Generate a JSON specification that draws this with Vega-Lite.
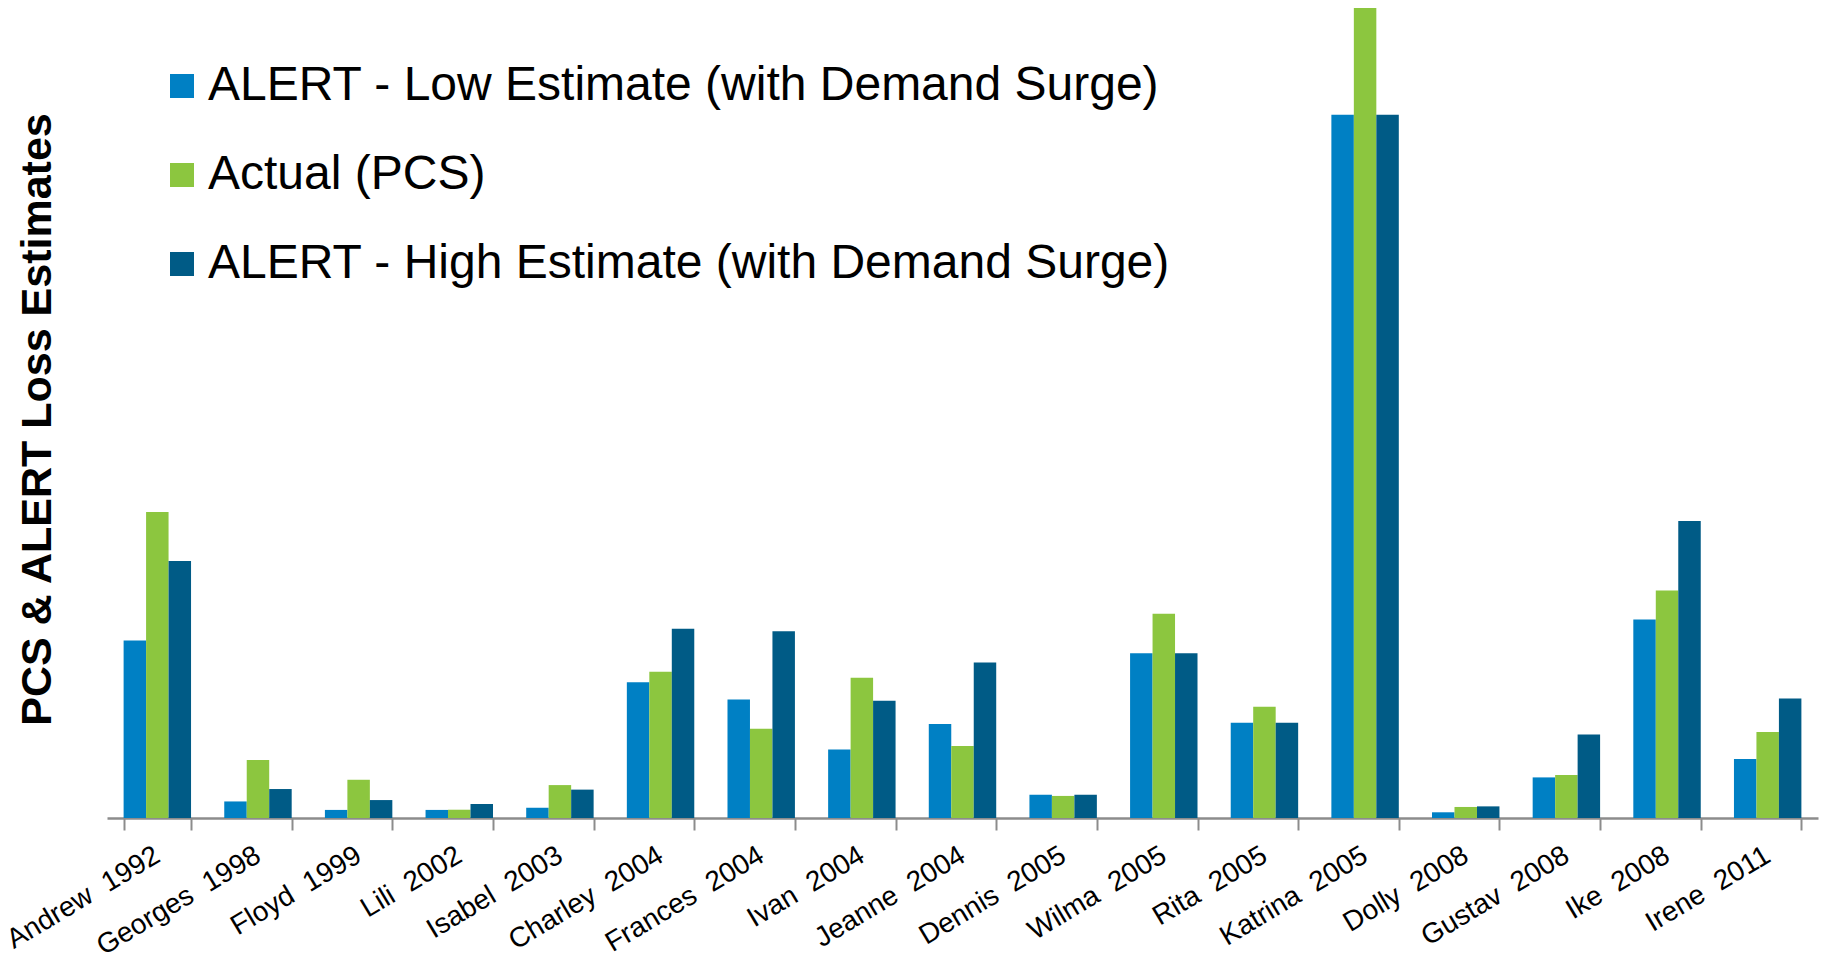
{
  "$schema": "https://vega.github.io/schema/vega-lite/v6.json",
  "autosize": {"type": "none"},
  "width": 1711,
  "height": 810,
  "padding": {"left": 107, "top": 8, "right": 4, "bottom": 137},
  "background": "white",
  "config": {"view": {"stroke": null}, "font": "Liberation Sans"},
  "data": {"values": [
    {"storm": "Andrew\u00a0 1992", "series": "ALERT - Low Estimate (with Demand Surge)", "value": 9.01},
    {"storm": "Andrew\u00a0 1992", "series": "Actual (PCS)", "value": 15.53},
    {"storm": "Andrew\u00a0 1992", "series": "ALERT - High Estimate (with Demand Surge)", "value": 13.04},
    {"storm": "Georges\u00a0 1998", "series": "ALERT - Low Estimate (with Demand Surge)", "value": 0.84},
    {"storm": "Georges\u00a0 1998", "series": "Actual (PCS)", "value": 2.94},
    {"storm": "Georges\u00a0 1998", "series": "ALERT - High Estimate (with Demand Surge)", "value": 1.47},
    {"storm": "Floyd\u00a0 1999", "series": "ALERT - Low Estimate (with Demand Surge)", "value": 0.41},
    {"storm": "Floyd\u00a0 1999", "series": "Actual (PCS)", "value": 1.94},
    {"storm": "Floyd\u00a0 1999", "series": "ALERT - High Estimate (with Demand Surge)", "value": 0.91},
    {"storm": "Lili\u00a0 2002", "series": "ALERT - Low Estimate (with Demand Surge)", "value": 0.41},
    {"storm": "Lili\u00a0 2002", "series": "Actual (PCS)", "value": 0.42},
    {"storm": "Lili\u00a0 2002", "series": "ALERT - High Estimate (with Demand Surge)", "value": 0.71},
    {"storm": "Isabel\u00a0 2003", "series": "ALERT - Low Estimate (with Demand Surge)", "value": 0.52},
    {"storm": "Isabel\u00a0 2003", "series": "Actual (PCS)", "value": 1.67},
    {"storm": "Isabel\u00a0 2003", "series": "ALERT - High Estimate (with Demand Surge)", "value": 1.44},
    {"storm": "Charley\u00a0 2004", "series": "ALERT - Low Estimate (with Demand Surge)", "value": 6.89},
    {"storm": "Charley\u00a0 2004", "series": "Actual (PCS)", "value": 7.42},
    {"storm": "Charley\u00a0 2004", "series": "ALERT - High Estimate (with Demand Surge)", "value": 9.6},
    {"storm": "Frances\u00a0 2004", "series": "ALERT - Low Estimate (with Demand Surge)", "value": 6.01},
    {"storm": "Frances\u00a0 2004", "series": "Actual (PCS)", "value": 4.53},
    {"storm": "Frances\u00a0 2004", "series": "ALERT - High Estimate (with Demand Surge)", "value": 9.48},
    {"storm": "Ivan\u00a0 2004", "series": "ALERT - Low Estimate (with Demand Surge)", "value": 3.47},
    {"storm": "Ivan\u00a0 2004", "series": "Actual (PCS)", "value": 7.12},
    {"storm": "Ivan\u00a0 2004", "series": "ALERT - High Estimate (with Demand Surge)", "value": 5.95},
    {"storm": "Jeanne\u00a0 2004", "series": "ALERT - Low Estimate (with Demand Surge)", "value": 4.77},
    {"storm": "Jeanne\u00a0 2004", "series": "Actual (PCS)", "value": 3.65},
    {"storm": "Jeanne\u00a0 2004", "series": "ALERT - High Estimate (with Demand Surge)", "value": 7.89},
    {"storm": "Dennis\u00a0 2005", "series": "ALERT - Low Estimate (with Demand Surge)", "value": 1.18},
    {"storm": "Dennis\u00a0 2005", "series": "Actual (PCS)", "value": 1.12},
    {"storm": "Dennis\u00a0 2005", "series": "ALERT - High Estimate (with Demand Surge)", "value": 1.18},
    {"storm": "Wilma\u00a0 2005", "series": "ALERT - Low Estimate (with Demand Surge)", "value": 8.36},
    {"storm": "Wilma\u00a0 2005", "series": "Actual (PCS)", "value": 10.36},
    {"storm": "Wilma\u00a0 2005", "series": "ALERT - High Estimate (with Demand Surge)", "value": 8.36},
    {"storm": "Rita\u00a0 2005", "series": "ALERT - Low Estimate (with Demand Surge)", "value": 4.83},
    {"storm": "Rita\u00a0 2005", "series": "Actual (PCS)", "value": 5.65},
    {"storm": "Rita\u00a0 2005", "series": "ALERT - High Estimate (with Demand Surge)", "value": 4.83},
    {"storm": "Katrina\u00a0 2005", "series": "ALERT - Low Estimate (with Demand Surge)", "value": 35.68},
    {"storm": "Katrina\u00a0 2005", "series": "Actual (PCS)", "value": 41.1},
    {"storm": "Katrina\u00a0 2005", "series": "ALERT - High Estimate (with Demand Surge)", "value": 35.68},
    {"storm": "Dolly\u00a0 2008", "series": "ALERT - Low Estimate (with Demand Surge)", "value": 0.29},
    {"storm": "Dolly\u00a0 2008", "series": "Actual (PCS)", "value": 0.56},
    {"storm": "Dolly\u00a0 2008", "series": "ALERT - High Estimate (with Demand Surge)", "value": 0.59},
    {"storm": "Gustav\u00a0 2008", "series": "ALERT - Low Estimate (with Demand Surge)", "value": 2.06},
    {"storm": "Gustav\u00a0 2008", "series": "Actual (PCS)", "value": 2.18},
    {"storm": "Gustav\u00a0 2008", "series": "ALERT - High Estimate (with Demand Surge)", "value": 4.24},
    {"storm": "Ike\u00a0 2008", "series": "ALERT - Low Estimate (with Demand Surge)", "value": 10.07},
    {"storm": "Ike\u00a0 2008", "series": "Actual (PCS)", "value": 11.54},
    {"storm": "Ike\u00a0 2008", "series": "ALERT - High Estimate (with Demand Surge)", "value": 15.07},
    {"storm": "Irene\u00a0 2011", "series": "ALERT - Low Estimate (with Demand Surge)", "value": 3.0},
    {"storm": "Irene\u00a0 2011", "series": "Actual (PCS)", "value": 4.36},
    {"storm": "Irene\u00a0 2011", "series": "ALERT - High Estimate (with Demand Surge)", "value": 6.06}
  ]},
  "mark": {"type": "bar"},
  "encoding": {
    "x": {
      "field": "storm", "type": "nominal", "sort": null,
      "scale": {"paddingInner": 0.33, "paddingOuter": 0.165},
      "axis": {
        "title": null, "labelAngle": -31, "labelFontSize": 28, "labelColor": "black",
        "labelAlign": "right", "labelBaseline": "middle", "labelLimit": 400, "labelOverlap": false,
        "domainColor": "#8c8c8c", "domainWidth": 2.5, "tickColor": "#8c8c8c",
        "tickWidth": 2, "tickSize": 12, "tickBand": "extent", "labelPadding": 23
      }
    },
    "xOffset": {
      "field": "series", "type": "nominal",
      "sort": ["ALERT - Low Estimate (with Demand Surge)", "Actual (PCS)", "ALERT - High Estimate (with Demand Surge)"]
    },
    "y": {
      "field": "value", "type": "quantitative",
      "scale": {"domain": [0, 41.1], "nice": false},
      "axis": {
        "title": "PCS & ALERT Loss Estimates", "titleFontSize": 43, "titleFontWeight": "bold",
        "titleColor": "black", "labels": false, "ticks": false, "domain": false, "grid": false,
        "titlePadding": 48, "titleY": 411
      }
    },
    "color": {
      "field": "series", "type": "nominal",
      "scale": {
        "domain": ["ALERT - Low Estimate (with Demand Surge)", "Actual (PCS)", "ALERT - High Estimate (with Demand Surge)"],
        "range": ["#0080C4", "#8CC63F", "#005B86"]
      },
      "legend": {
        "title": null, "orient": "none", "legendX": 51, "legendY": 54,
        "labelFontSize": 48, "labelColor": "black", "symbolType": "square",
        "symbolSize": 576, "symbolStrokeWidth": 0, "rowPadding": 41,
        "labelOffset": 2, "padding": 0, "labelLimit": 2000
      }
    }
  }
}
